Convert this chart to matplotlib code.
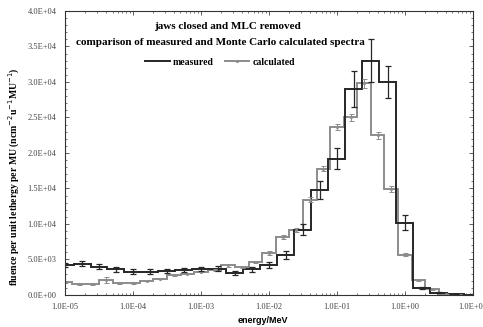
import numpy as np
import matplotlib
matplotlib.use("Agg")
import matplotlib.pyplot as plt
from matplotlib.ticker import FixedLocator, MultipleLocator, LogLocator, NullFormatter

plt.rcParams['font.family'] = ['Liberation Serif', 'DejaVu Serif']

# measured spectrum: 4 bins per decade, centres at 1e-5 ... (fluence per unit lethargy)
meas_energy = 10 ** (-5 + np.arange(25) / 4.0)
meas_fluence = [4200, 4400, 4000, 3600, 3300, 3300, 3400, 3500, 3700, 3700,
                3100, 3600, 4200, 5600, 9200, 14800, 19200, 29000, 33000, 30000,
                10200, 1000, 300, 100, 50]
meas_err = [300, 350, 300, 300, 300, 300, 300, 300, 300, 350,
            300, 300, 400, 600, 800, 1300, 1500, 2500, 3000, 2300,
            1100, 150, 60, 30, 20]

# Monte Carlo spectrum: 5 bins per decade
calc_energy = 10 ** (-5 + np.arange(30) / 5.0)
calc_fluence = [1800, 1500, 1500, 2100, 1700, 1700, 2000, 2300, 2800, 3000,
                3300, 3500, 4200, 4000, 4700, 5900, 8200, 9200, 13400, 17800,
                23700, 25000, 29800, 22500, 14900, 5700, 2100, 800, 150, 50]
calc_err = [150, 100, 100, 450, 100, 100, 100, 100, 100, 100,
            100, 100, 200, 150, 150, 250, 250, 300, 350, 400,
            450, 450, 600, 500, 400, 200, 150, 80, 30, 20]

xticks = [1e-5, 1e-4, 1e-3, 1e-2, 1e-1, 1e0, 1e1]
xticklabels = ['1.0E-05', '1.0E-04', '1.0E-03', '1.0E-02', '1.0E-01', '1.0E+00', '1.0E+01']
yticks = np.arange(0, 40001, 5000)
yticklabels = ['0.0E+00', '5.0E+03', '1.0E+04', '1.5E+04', '2.0E+04',
               '2.5E+04', '3.0E+04', '3.5E+04', '4.0E+04']


def log_edges(centres):
    lc = np.log10(centres)
    half = (lc[1] - lc[0]) / 2
    return 10 ** np.concatenate([lc - half, [lc[-1] + half]])


fig = plt.figure(figsize=(4.83, 3.27), dpi=100)
ax = fig.add_axes([0.1346, 0.0979, 0.8444, 0.8685])

c_meas = '#262626'
c_calc = '#8c8c8c'

ax.stairs(calc_fluence, log_edges(calc_energy), color=c_calc, lw=1.4, baseline=None)
ax.errorbar(calc_energy, calc_fluence, yerr=calc_err, fmt='none', ecolor=c_calc,
            elinewidth=0.7, capsize=1.8, capthick=0.7)
ax.plot(calc_energy, calc_fluence, ls='none', marker='.', ms=2.5, color=c_calc)

ax.stairs(meas_fluence, log_edges(meas_energy), color=c_meas, lw=1.4, baseline=None)
ax.errorbar(meas_energy, meas_fluence, yerr=meas_err, fmt='none', ecolor=c_meas,
            elinewidth=0.9, capsize=2, capthick=0.9)

ax.set_xscale('log')
ax.set_xlim(1e-5, 1e1)
ax.set_ylim(0, 40000)
ax.xaxis.set_major_locator(FixedLocator(xticks))
ax.set_xticklabels(xticklabels)
ax.xaxis.set_minor_locator(LogLocator(base=10, subs=np.arange(2, 10)))
ax.xaxis.set_minor_formatter(NullFormatter())
ax.set_yticks(yticks)
ax.set_yticklabels(yticklabels)
ax.yaxis.set_minor_locator(MultipleLocator(1000))
ax.tick_params(which='both', direction='in', top=True, right=True, labelsize=6, pad=6, colors='#444444')
ax.tick_params(which='major', length=3, width=0.6)
ax.tick_params(which='minor', length=1.5, width=0.5)
for s in ax.spines.values():
    s.set_linewidth(0.8)
    s.set_color('#333333')

ax.set_xlabel('energy/MeV', family='Liberation Sans', fontweight='bold', fontsize=6.5)
ax.xaxis.set_label_coords(0.485, -0.075)
ax.set_ylabel('fluence per unit lethergy per MU (ncm$^{-2}$u$^{-1}$MU$^{-1}$)',
              fontweight='bold', fontsize=7)
ax.yaxis.set_label_coords(-0.105, 0.415)

ax.text(0.397, 0.945, 'jaws closed and MLC removed', transform=ax.transAxes,
        ha='center', va='center', fontweight='bold', fontsize=8)
ax.text(0.382, 0.89, 'comparison of measured and Monte Carlo calculated spectra',
        transform=ax.transAxes, ha='center', va='center', fontweight='bold', fontsize=8)

ax.plot([], [], color=c_meas, lw=1.4, label='measured')
ax.plot([], [], color=c_calc, lw=1.4, marker='.', ms=2.5, label='calculated')
ax.legend(loc='center', bbox_to_anchor=(0.38, 0.82), ncol=2, frameon=False,
          handlelength=2.5, columnspacing=1.2, handletextpad=0.3,
          prop={'weight': 'bold', 'size': 7})

fig.savefig('out.png', dpi=100)
